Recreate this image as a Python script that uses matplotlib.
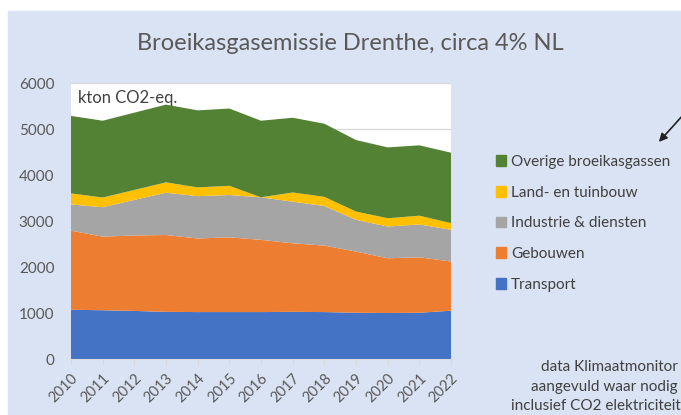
import matplotlib
matplotlib.use("Agg")
import matplotlib.pyplot as plt
from matplotlib.patches import Rectangle, Patch

plt.rcParams['font.family'] = ['Lato', 'DejaVu Sans']

# Data (kton CO2-eq.)
jaren = [2010, 2011, 2012, 2013, 2014, 2015, 2016, 2017, 2018, 2019, 2020, 2021, 2022]
transport = [1070, 1060, 1045, 1025, 1020, 1020, 1020, 1025, 1020, 1005, 1000, 1005, 1050]
gebouwen = [1720, 1600, 1640, 1670, 1600, 1625, 1570, 1490, 1445, 1330, 1190, 1205, 1070]
industrie = [570, 640, 775, 920, 920, 920, 925, 905, 860, 690, 690, 715, 690]
land_tuinbouw = [240, 210, 215, 225, 190, 200, 0, 200, 200, 180, 180, 190, 145]
overige = [1685, 1670, 1680, 1690, 1675, 1680, 1665, 1625, 1590, 1555, 1540, 1530, 1530]

labels = ["Transport", "Gebouwen", "Industrie & diensten",
          "Land- en tuinbouw", "Overige broeikasgassen"]
kleuren = ["#4472C4", "#ED7D31", "#A5A5A5", "#FFC000", "#548235"]

W, H = 681, 415
fig = plt.figure(figsize=(W / 100, H / 100), dpi=100, facecolor="white")

# lichtblauwe achtergrond van de dia
fig.patches.append(Rectangle((8 / W, 0), 1 - 8 / W, 1 - 11 / H,
                             transform=fig.transFigure, color="#DAE3F3", zorder=-10))

ax = fig.add_axes([71 / W, 1 - 359 / H, 380 / W, 276 / H])
ax.set_facecolor("white")
ax.stackplot(jaren, transport, gebouwen, industrie, land_tuinbouw, overige,
             colors=kleuren, labels=labels, linewidth=0)

ax.set_xlim(2010, 2022)
ax.set_ylim(0, 6000)
ax.set_yticks(range(0, 6001, 1000))
ax.set_xticks(jaren)
ax.set_xticklabels([str(j) for j in jaren], rotation=45, ha="right",
                   rotation_mode="anchor")
ax.grid(axis="y", color="#D9D9D9", linewidth=1)
ax.set_axisbelow(True)
for s in ["top", "right", "left"]:
    ax.spines[s].set_visible(False)
ax.spines["bottom"].set_color("#D9D9D9")
ax.tick_params(axis="y", length=0, labelsize=11, labelcolor="#595959", pad=12)
ax.tick_params(axis="x", length=4, color="#D9D9D9", labelsize=10.5,
               labelcolor="#595959", pad=5)

ax.text(0.018, 0.975, "kton CO2-eq.", transform=ax.transAxes, fontsize=12,
        color="#404040", va="top", ha="left")

fig.text(350 / W, 1 - 44 / H, "Broeikasgasemissie Drenthe, circa 4% NL",
         fontsize=17, color="#595959", ha="center", va="center")

handles = [Patch(color=c, label=l) for c, l in zip(kleuren, labels)][::-1]
fig.legend(handles=handles, loc="upper left", bbox_to_anchor=(482 / W, 1 - 141 / H),
           frameon=False, fontsize=11, labelcolor="#404040", handlelength=0.7,
           handleheight=0.7, handletextpad=0.3, labelspacing=1.1)

fig.text(678 / W, 1 - 367 / H, "data Klimaatmonitor", fontsize=11,
         color="#404040", ha="right", va="center")
fig.text(678 / W, 1 - 387 / H, "aangevuld waar nodig", fontsize=11,
         color="#404040", ha="right", va="center")
fig.text(681 / W, 1 - 406 / H, "inclusief CO2 elektriciteit", fontsize=11,
         color="#404040", ha="right", va="center")

ax.annotate("", xy=(657 / W, 1 - 144 / H), xytext=(684 / W, 1 - 114 / H),
            xycoords="figure fraction", textcoords="figure fraction",
            arrowprops=dict(arrowstyle="-|>", color="#222222", lw=1.2,
                            mutation_scale=12))

fig.savefig("out.png", dpi=100, facecolor="white")
